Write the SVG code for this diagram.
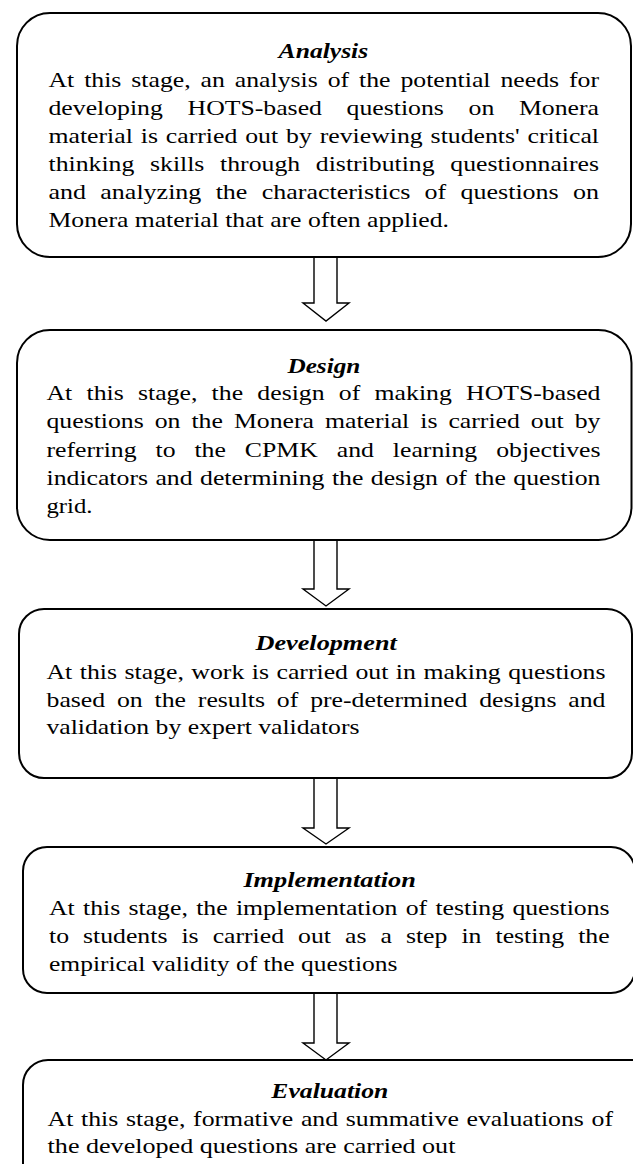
<svg xmlns="http://www.w3.org/2000/svg" width="633" height="1164" viewBox="0 0 633 1164">
<style>
.box{fill:#fff;stroke:#000;stroke-width:2}
.arr{fill:#fff;stroke:#000;stroke-width:1.4;stroke-linejoin:miter}
.t{font-family:"Liberation Serif","Times New Roman",serif;font-size:22px;fill:#000}
.h{font-family:"Liberation Serif","Times New Roman",serif;font-size:22px;font-weight:bold;font-style:italic;fill:#000}
</style>
<rect width="633" height="1164" fill="#fff"/>
<g id="connectors">
<polygon class="arr" points="314,257 337,257 337,303 349,303 326,321 303,303 314,303"/>
<polygon class="arr" points="314,540 337,540 337,589 349,589 326,606 303,589 314,589"/>
<polygon class="arr" points="314,778 337,778 337,828 349,828 326,844 303,828 314,828"/>
<polygon class="arr" points="314,993 337,993 337,1043 349,1043 326,1060 303,1043 314,1043"/>
</g>
<g id="analysis">
<rect class="box" x="17" y="13" width="614" height="244" rx="33"/>
<text class="h" x="278.6" y="58" textLength="89.6" lengthAdjust="spacingAndGlyphs">Analysis</text>
<text class="t" x="48.5" y="87" textLength="550.5" lengthAdjust="spacingAndGlyphs" style="word-spacing:3px">At this stage, an analysis of the potential needs for</text>
<text class="t" x="48.5" y="115" textLength="550.5" lengthAdjust="spacingAndGlyphs" style="word-spacing:15.6px">developing HOTS-based questions on Monera</text>
<text class="t" x="48.5" y="143" textLength="550.5" lengthAdjust="spacingAndGlyphs" style="word-spacing:1.3px">material is carried out by reviewing students' critical</text>
<text class="t" x="48.5" y="171" textLength="550.5" lengthAdjust="spacingAndGlyphs" style="word-spacing:7.9px">thinking skills through distributing questionnaires</text>
<text class="t" x="48.5" y="199" textLength="550.5" lengthAdjust="spacingAndGlyphs" style="word-spacing:6.6px">and analyzing the characteristics of questions on</text>
<text class="t" x="48.5" y="227" textLength="400.5" lengthAdjust="spacingAndGlyphs">Monera material that are often applied.</text>
</g>
<g id="design">
<rect class="box" x="17" y="330" width="614.5" height="210" rx="33"/>
<text class="h" x="287.4" y="373" textLength="73" lengthAdjust="spacingAndGlyphs">Design</text>
<text class="t" x="46.5" y="400" textLength="554" lengthAdjust="spacingAndGlyphs" style="word-spacing:6.7px">At this stage, the design of making HOTS-based</text>
<text class="t" x="46.5" y="428" textLength="554" lengthAdjust="spacingAndGlyphs" style="word-spacing:3.9px">questions on the Monera material is carried out by</text>
<text class="t" x="46.5" y="457" textLength="554" lengthAdjust="spacingAndGlyphs" style="word-spacing:10.7px">referring to the CPMK and learning objectives</text>
<text class="t" x="46.5" y="485" textLength="554" lengthAdjust="spacingAndGlyphs" style="word-spacing:0.9px">indicators and determining the design of the question</text>
<text class="t" x="46.5" y="513" textLength="46" lengthAdjust="spacingAndGlyphs">grid.</text>
</g>
<g id="development">
<rect class="box" x="19" y="609" width="613" height="169" rx="25"/>
<text class="h" x="255.5" y="650" textLength="141.3" lengthAdjust="spacingAndGlyphs">Development</text>
<text class="t" x="46.5" y="679" textLength="559" lengthAdjust="spacingAndGlyphs" style="word-spacing:0.9px">At this stage, work is carried out in making questions</text>
<text class="t" x="46.5" y="707" textLength="559" lengthAdjust="spacingAndGlyphs" style="word-spacing:4.6px">based on the results of pre-determined designs and</text>
<text class="t" x="46.5" y="734" textLength="313" lengthAdjust="spacingAndGlyphs">validation by expert validators</text>
</g>
<g id="implementation">
<rect class="box" x="23" y="847" width="612" height="146" rx="24"/>
<text class="h" x="243.4" y="887" textLength="172.4" lengthAdjust="spacingAndGlyphs">Implementation</text>
<text class="t" x="49" y="915" textLength="560.6" lengthAdjust="spacingAndGlyphs" style="word-spacing:1.6px">At this stage, the implementation of testing questions</text>
<text class="t" x="49" y="943" textLength="560.6" lengthAdjust="spacingAndGlyphs" style="word-spacing:6.5px">to students is carried out as a step in testing the</text>
<text class="t" x="49" y="971" textLength="348.4" lengthAdjust="spacingAndGlyphs">empirical validity of the questions</text>
</g>
<g id="evaluation">
<rect class="box" x="23" y="1060" width="640" height="160" rx="25"/>
<text class="h" x="271.3" y="1098" textLength="117" lengthAdjust="spacingAndGlyphs">Evaluation</text>
<text class="t" x="47.6" y="1126" textLength="565.4" lengthAdjust="spacingAndGlyphs" style="word-spacing:1.1px">At this stage, formative and summative evaluations of</text>
<text class="t" x="47.6" y="1153" textLength="407.8" lengthAdjust="spacingAndGlyphs">the developed questions are carried out</text>
</g>
</svg>
